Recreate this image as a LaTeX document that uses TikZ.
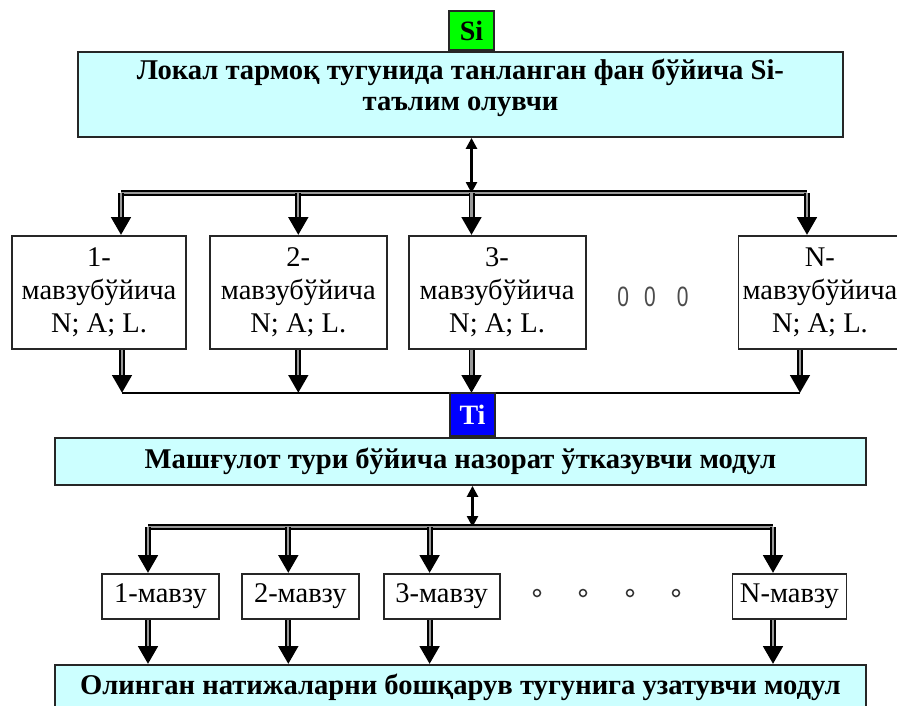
\documentclass[tikz,border=0pt]{standalone}
\usepackage{fontspec}
\setmainfont{Liberation Serif}
\setsansfont{Liberation Sans}
\usetikzlibrary{positioning}
\usetikzlibrary{arrows.meta}
\definecolor{boxcyan}{HTML}{CCFFFF}
\tikzset{
    every node/.append style={inner sep=0pt},
    topbox/.style={
        draw=black!85, line width=1.8pt,
        fill=boxcyan, align=center,
        font=\bfseries\fontsize{28.6}{31}\selectfont
    },
    tagbox/.style={
        draw=black!85, line width=1.8pt,
        minimum width=45pt, minimum height=39pt,
        font=\bfseries\fontsize{28}{30}\selectfont
    },
    rowbox/.style={
        draw=black!85, line width=1.8pt,
        fill=white, align=center, minimum height=113pt,
        font=\fontsize{28.5}{33}\selectfont
    },
    smallbox/.style={
        draw=black!85, line width=1.8pt,
        fill=white, minimum height=45pt,
        font=\fontsize{28.5}{33}\selectfont
    },
    bigarrow/.style={
        draw=black, line width=6pt,
        -{Triangle[length=18pt,width=19pt]},
        postaction={draw=black!40, line width=2.2pt, -, shorten >=18pt}
    },
    busline/.style={
        draw=black, line width=6pt,
        postaction={draw=black!40, line width=2.2pt}
    },
    link/.style={
        draw, line width=2.5pt,
        {Triangle[length=11pt,width=11pt]}-{Triangle[length=11pt,width=11pt]}
    }
}

\begin{document}
\begin{tikzpicture}[x=1pt, y=-1pt]
    \useasboundingbox (0,0) rectangle (897,706);

    \node[topbox, minimum width=765pt, minimum height=85pt, text height=50pt, text depth=17pt] (loc) at (460.5,94.5) {Локал тармоқ тугунида танланган фан бўйича Si-\\таълим олувчи};
    \node[tagbox, fill=green, above=0pt of loc, xshift=11pt] (si) {Si};

    \coordinate (busAL) at (121,193);
    \coordinate (busAR) at (807,193);
    \draw[link] (loc.south -| si) -- (si |- busAL);
    \draw[busline] (busAL) -- (busAR);

    \node[rowbox, minimum width=174pt] (m1) at (99,292.5) {1-\\мавзубўйича\\N; A; L.};
    \node[rowbox, minimum width=177pt, right=22pt of m1] (m2) {2-\\мавзубўйича\\N; A; L.};
    \node[rowbox, minimum width=177pt, right=20pt of m2] (m3) {3-\\мавзубўйича\\N; A; L.};
    \node[rowbox, minimum width=163pt, right=151pt of m3] (mN) {N-\\мавзубўйича\\N; A; L.};
    \node[font=\sffamily\fontsize{28}{28}\selectfont, text=black!70, xscale=0.75] (gap) at (653,297) {0\hspace{20pt}0\hspace{28pt}0};

    \draw[bigarrow] (busAL) -- (busAL |- m1.north);
    \draw[bigarrow] (m2.north |- busAL) -- (m2.north);
    \draw[bigarrow] (si |- busAL) -- (si |- m3.north);
    \draw[bigarrow] (busAR) -- (busAR |- mN.north);

    \coordinate (colL) at (122,393);
    \coordinate (colR) at (800,393);
    \draw[bigarrow] (m1.south -| colL) -- (colL);
    \draw[bigarrow] (m2.south) -- (m2.south |- colL);
    \draw[bigarrow] (m3.south -| si) -- (si |- colL);
    \draw[bigarrow] (mN.south -| colR) -- (colR);
    \draw[line width=1.5pt] (colL) -- (colR);

    \node[topbox, minimum width=811pt, minimum height=47pt] (mid) at (460.5,461.5) {Машғулот тури бўйича назорат ўтказувчи модул};
    \node[tagbox, fill=blue, text=white, minimum height=43pt, above=0pt of mid, xshift=12pt] (ti) {Ti};

    \coordinate (busBL) at (148,527);
    \coordinate (busBR) at (773,527);
    \draw[link] (mid.south -| ti) -- (ti |- busBL);
    \draw[busline] (busBL) -- (busBR);

    \node[smallbox, minimum width=117pt] (s1) at (160.5,596.5) {1-мавзу};
    \node[smallbox, minimum width=117pt, right=21pt of s1] (s2) {2-мавзу};
    \node[smallbox, minimum width=116pt, right=23pt of s2] (s3) {3-мавзу};
    \node[smallbox, minimum width=114pt, right=231pt of s3] (sN) {N-мавзу};
    \foreach \cx in {537,583,630,676}
        \draw[line width=1.5pt, black!80] (\cx,593) circle (3.5pt);

    \coordinate (t2) at ([xshift=-12pt]s2.north);
    \coordinate (t3) at ([xshift=-12pt]s3.north);

    \node[topbox, minimum width=811pt, minimum height=44pt] (bot) at (460.5,687) {Олинган натижаларни бошқарув тугунига узатувчи модул};

    \draw[bigarrow] (busBL) -- (busBL |- s1.north);
    \draw[bigarrow] (t2 |- busBL) -- (t2);
    \draw[bigarrow] (t3 |- busBL) -- (t3);
    \draw[bigarrow] (busBR) -- (busBR |- sN.north);

    \draw[bigarrow] (busBL |- s1.south) -- (busBL |- bot.north);
    \draw[bigarrow] (t2 |- s2.south) -- (t2 |- bot.north);
    \draw[bigarrow] (t3 |- s3.south) -- (t3 |- bot.north);
    \draw[bigarrow] (busBR |- sN.south) -- (busBR |- bot.north);
\end{tikzpicture}
\end{document}
